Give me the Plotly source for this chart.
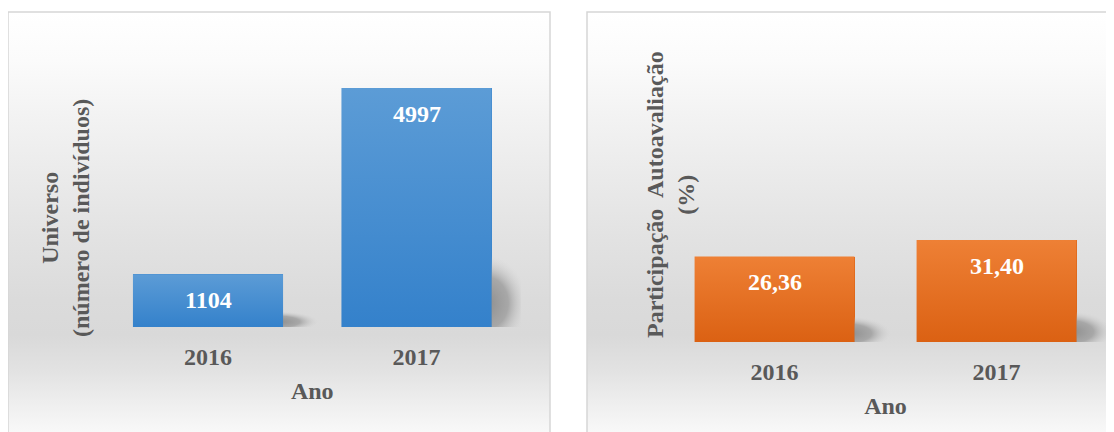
import math
import plotly.graph_objects as go

# ---------------- data ----------------
years = ["2016", "2017"]
universo = [1104, 4997]
participacao = [26.36, 31.40]
y_title_left = "Universo<br>(número de indivíduos)"
y_title_right = "Participação  Autoavaliação<br>(%)"
x_title = "Ano"

# ---------------- style ----------------
W, H = 1114, 432
OX, OY = 8, 8          # page body margin of the html page
FONT = "Liberation Serif, Times New Roman, serif"
TXT = "#595959"
BAR_W = 0.72
blue = ("#3481CB", "#5C9CD6")     # bottom, top
orange = ("#DB6113", "#EE8035")


def px(x):
    return (x - OX) / W


def py(y):
    return 1 - (y - OY) / H


fig = go.Figure()

# background panels (vertical grey gradient) on a hidden full-page subplot (y = -pixel)
bg_scale = [
    [0.0, "#FFFFFF"], [0.067, "#F8F8F8"], [0.138, "#EDEDED"], [0.204, "#E2E2E2"],
    [0.282, "#D9D9D9"], [0.36, "#DBDBDB"], [0.493, "#E2E2E2"], [0.627, "#EAEAEA"],
    [0.76, "#F2F2F2"], [0.893, "#FBFBFB"], [1.0, "#FFFFFF"],
]
panels = [(8, 550), (587, 1140)]
for x0, x1 in panels:
    fig.add_trace(go.Scatter(
        x=[x0, x1, x1, x0, x0], y=[-462, -462, -12, -12, -462],
        xaxis="x", yaxis="y", mode="lines", line=dict(width=0), fill="toself",
        fillgradient=dict(type="vertical", colorscale=bg_scale, start=-462, stop=-12),
        hoverinfo="skip", showlegend=False))
    fig.add_shape(type="rect", xref="paper", yref="paper",
                  x0=px(x0), x1=px(x1), y0=-0.2, y1=py(12),
                  line=dict(color="#D6D6D6", width=1.5), fillcolor="rgba(0,0,0,0)")


def add_panel(values, labels, colors, xa, ya, shadow_w):
    xs = list(range(len(values)))
    # soft shadows (ellipse with radial fade, partly hidden behind the bar)
    for i, v in zip(xs, values):
        cx, cy = i + BAR_W / 2 - 0.03, 0.1 * v
        rx, ry = shadow_w + 0.05, 0.2 * v
        n = 48
        ex = [cx + rx * math.cos(2 * math.pi * k / n) for k in range(n + 1)]
        ey = [cy + ry * math.sin(2 * math.pi * k / n) for k in range(n + 1)]
        fig.add_trace(go.Scatter(
            x=ex, y=ey, xaxis=xa, yaxis=ya, mode="lines", line=dict(width=0), fill="toself",
            fillgradient=dict(type="radial",
                              colorscale=[[0, "rgba(140,140,140,1)"],
                                          [0.55, "rgba(155,155,155,0.8)"],
                                          [1, "rgba(210,210,210,0)"]]),
            hoverinfo="skip", showlegend=False))
    # bars
    fig.add_trace(go.Bar(x=xs, y=values, width=BAR_W, marker=dict(color=colors[0], line=dict(width=0)),
                         xaxis=xa, yaxis=ya, showlegend=False, hoverinfo="skip"))
    # gradient overlay of each bar
    for i, v in zip(xs, values):
        l, r = i - BAR_W / 2, i + BAR_W / 2
        fig.add_trace(go.Scatter(
            x=[l, r, r, l, l], y=[0, 0, v, v, 0], xaxis=xa, yaxis=ya,
            mode="lines", line=dict(width=0), fill="toself",
            fillgradient=dict(type="vertical", colorscale=[[0, colors[0]], [1, colors[1]]],
                              start=0, stop=v),
            hoverinfo="skip", showlegend=False))
    # data labels
    for i, v, t in zip(xs, values, labels):
        fig.add_annotation(x=i, y=v, xref=xa, yref=ya, text=t, showarrow=False,
                           yanchor="middle", yshift=-26,
                           font=dict(family=FONT, size=24, color="white", weight="bold"))


add_panel(universo, [str(v) for v in universo], blue, "x2", "y2", 0.15)
add_panel(participacao, [f"{v:.2f}".replace(".", ",") for v in participacao], orange, "x3", "y3", 0.145)

tickfont = dict(family=FONT, size=24, color=TXT, weight="bold")
titlefont = dict(family=FONT, size=24, color=TXT, weight="bold")


def cat_axis(domain):
    return dict(domain=domain, range=[-0.5, 1.5], tickvals=[0, 1], ticktext=years,
                showgrid=False, zeroline=False, showline=False, ticks="",
                tickfont=tickfont, ticklabelstandoff=13,
                title=dict(text=x_title, font=titlefont, standoff=13), fixedrange=True)


def val_axis(domain, rng):
    return dict(domain=domain, range=rng, visible=False, showgrid=False, zeroline=False, fixedrange=True)


fig.update_layout(
    width=W, height=H,
    margin=dict(l=0, r=0, t=0, b=0),
    paper_bgcolor="white", plot_bgcolor="rgba(0,0,0,0)",
    showlegend=False, bargap=0,
    xaxis=dict(domain=[0, 1], range=[OX, OX + W], visible=False, fixedrange=True),
    yaxis=dict(domain=[0, 1], range=[-(OY + H), -OY], visible=False, fixedrange=True),
    xaxis2=dict(cat_axis([px(103.75), px(520.75)]), anchor="y2"),
    yaxis2=dict(val_axis([py(327), py(40)], [0, 6000]), anchor="x2"),
    xaxis3=dict(cat_axis([px(663.5), px(1107.5)]), anchor="y3"),
    yaxis3=dict(val_axis([py(342), py(49.7)], [0, 90]), anchor="x3"),
)

fig.add_annotation(x=px(65), y=py(218), xref="paper", yref="paper", text=y_title_left,
                   textangle=-90, showarrow=False, xanchor="center", yanchor="middle",
                   font=titlefont)
fig.add_annotation(x=px(670), y=py(195), xref="paper", yref="paper", text=y_title_right,
                   textangle=-90, showarrow=False, xanchor="center", yanchor="middle",
                   font=titlefont)

fig.write_html("out.html")
